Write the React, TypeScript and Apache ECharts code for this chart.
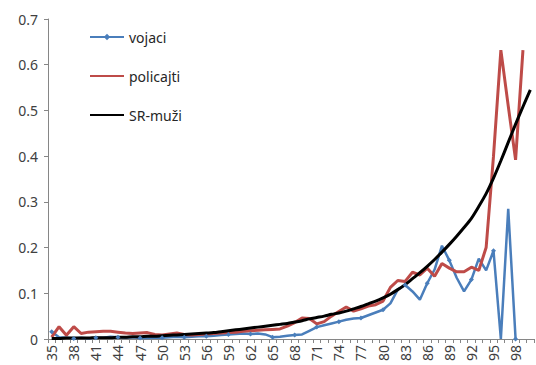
import React, { useEffect, useRef } from "react";
import * as echarts from "echarts";

const ages: string[] = [];
for (let a = 35; a <= 100; a++) ages.push(String(a));

const vojaci = [
  0.016, 0.004, 0.003, 0.001, 0.003, 0.001, 0.003, 0.003, 0.005, 0.004,
  0.003, 0.004, 0.002, 0.002, 0.003, 0.003, 0.004, 0.005, 0.004, 0.005,
  0.006, 0.006, 0.007, 0.009, 0.010, 0.011, 0.012, 0.011, 0.012, 0.010,
  0.004, 0.005, 0.007, 0.009, 0.010, 0.018, 0.026, 0.030, 0.034, 0.038,
  0.042, 0.045, 0.046, 0.052, 0.058, 0.064, 0.078, 0.108, 0.118, 0.104,
  0.086, 0.122, 0.152, 0.204, 0.172, 0.134, 0.104, 0.130, 0.176, 0.150,
  0.193, 0, 0.285, 0, null, null,
];

const policajti = [
  0.004, 0.027, 0.008, 0.027, 0.012, 0.015, 0.016, 0.017, 0.017, 0.015,
  0.013, 0.012, 0.013, 0.014, 0.010, 0.009, 0.011, 0.013, 0.010, 0.009,
  0.010, 0.011, 0.012, 0.013, 0.014, 0.015, 0.017, 0.018, 0.019, 0.020,
  0.021, 0.022, 0.028, 0.036, 0.046, 0.045, 0.033, 0.038, 0.050, 0.060,
  0.070, 0.061, 0.066, 0.072, 0.075, 0.083, 0.113, 0.128, 0.126, 0.146,
  0.140, 0.155, 0.137, 0.165, 0.155, 0.147, 0.147, 0.157, 0.150, 0.200,
  0.400, 0.632, 0.510, 0.392, 0.632, null,
];

const srMuzi = [
  0.001, 0.001, 0.002, 0.002, 0.002, 0.002, 0.003, 0.003, 0.003, 0.004,
  0.004, 0.005, 0.005, 0.006, 0.006, 0.007, 0.008, 0.009, 0.010, 0.011,
  0.012, 0.013, 0.014, 0.016, 0.018, 0.020, 0.022, 0.024, 0.026, 0.028,
  0.030, 0.032, 0.034, 0.037, 0.040, 0.044, 0.047, 0.050, 0.054, 0.057,
  0.061, 0.066, 0.071, 0.077, 0.083, 0.090, 0.098, 0.108, 0.119, 0.132,
  0.145, 0.159, 0.174, 0.190, 0.207, 0.225, 0.244, 0.264, 0.290, 0.318,
  0.352, 0.390, 0.430, 0.470, 0.508, 0.545,
];

const FONT = "'Noto Sans', 'DejaVu Sans', sans-serif";

export default function App() {
  const ref = useRef<HTMLDivElement>(null);
  useEffect(() => {
    if (!ref.current) return;
    const chart = echarts.init(ref.current, undefined, { renderer: "svg" });
    chart.setOption({
      animation: false,
      backgroundColor: "#ffffff",
      grid: { left: 48, right: 2, top: 19, bottom: 26, containLabel: false },
      legend: {
        orient: "vertical",
        left: 84,
        top: 25,
        itemGap: 25,
        itemWidth: 34,
        itemHeight: 8,
        textStyle: { fontFamily: FONT, fontSize: 14, color: "#262626" },
        data: [
          { name: "vojaci" },
          { name: "policajti", itemStyle: { opacity: 0 } },
          { name: "SR-muži", itemStyle: { opacity: 0 } },
        ],
      },
      xAxis: {
        type: "category",
        data: ages,
        boundaryGap: true,
        axisLine: { lineStyle: { color: "#868686", width: 1 } },
        axisTick: { show: true, interval: 0, length: 4, lineStyle: { color: "#868686" } },
        axisLabel: {
          interval: 2,
          rotate: 90,
          margin: 6,
          fontFamily: FONT,
          fontSize: 14,
          color: "#404040",
        },
        splitLine: { show: false },
      },
      yAxis: {
        type: "value",
        min: 0,
        max: 0.7,
        interval: 0.1,
        axisLine: { show: true, lineStyle: { color: "#868686", width: 1 } },
        axisTick: { show: true, length: 4, lineStyle: { color: "#868686" } },
        axisLabel: {
          margin: 10,
          fontFamily: FONT,
          fontSize: 14,
          color: "#404040",
          formatter: (v: number) => (Math.round(v * 10) / 10).toString(),
        },
        splitLine: { show: false },
      },
      series: [
        {
          name: "vojaci",
          type: "line",
          data: vojaci,
          symbol: "diamond",
          symbolSize: 5,
          showSymbol: true,
          connectNulls: false,
          lineStyle: { color: "#4A7EBB", width: 2.5 },
          itemStyle: { color: "#4A7EBB" },
        },
        {
          name: "policajti",
          type: "line",
          data: policajti,
          symbol: "none",
          lineStyle: { color: "#BE4B48", width: 3 },
          itemStyle: { color: "#BE4B48" },
        },
        {
          name: "SR-muži",
          type: "line",
          data: srMuzi,
          symbol: "none",
          smooth: 0.3,
          lineStyle: { color: "#000000", width: 3 },
          itemStyle: { color: "#000000" },
        },
      ],
    });
    return () => chart.dispose();
  }, []);
  return (
    <div
      ref={ref}
      style={{ position: "fixed", left: 0, top: 0, width: 536, height: 365 }}
    />
  );
}
